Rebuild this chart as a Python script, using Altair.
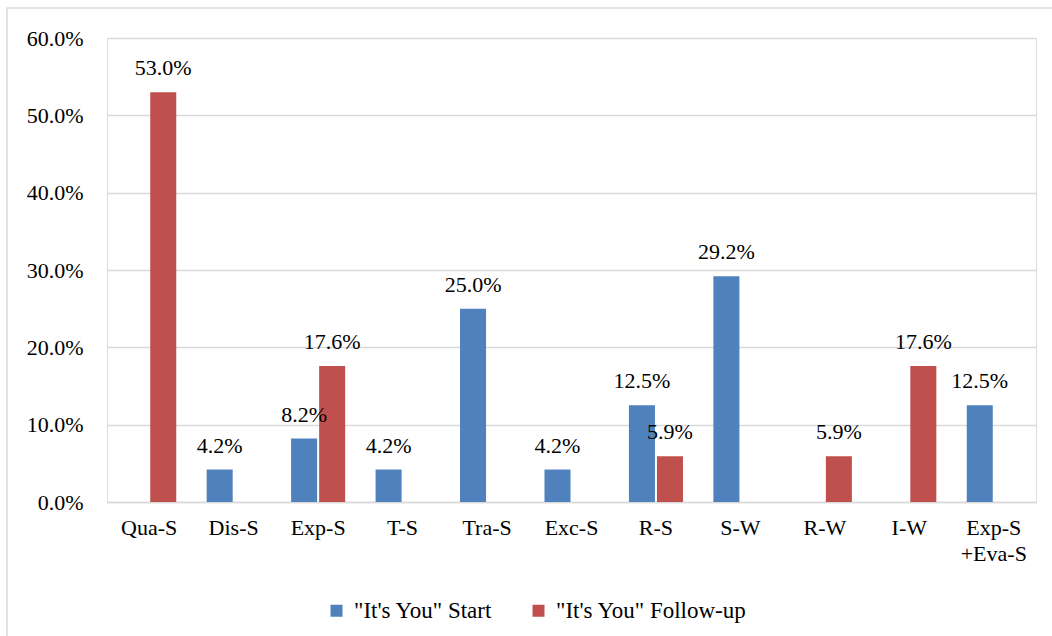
import altair as alt
import pandas as pd

categories = ["Qua-S", "Dis-S", "Exp-S", "T-S", "Tra-S", "Exc-S", "R-S", "S-W", "R-W", "I-W", "Exp-S +Eva-S"]
series_names = ['"It\'s You" Start', '"It\'s You" Follow-up']
start_values = [None, 4.2, 8.2, 4.2, 25.0, 4.2, 12.5, 29.2, None, None, 12.5]
follow_values = [53.0, None, 17.6, None, None, None, 5.9, None, 5.9, 17.6, None]
colors = ["#4F81BD", "#C0504D"]

rows = []
for c, s, f in zip(categories, start_values, follow_values):
    if s is not None:
        rows.append({"cat": c, "series": series_names[0], "value": s})
    if f is not None:
        rows.append({"cat": c, "series": series_names[1], "value": f})
df = pd.DataFrame(rows)

FONT = "'Liberation Serif', 'Times New Roman', serif"
FS = 22

x = alt.X("cat:N", sort=categories, title=None,
          scale=alt.Scale(paddingInner=0.36, paddingOuter=0.18),
          axis=alt.Axis(labelAngle=0, labelFontSize=FS, labelFont=FONT, labelColor="#000000",
                        labelPadding=15, ticks=False, domain=True, domainColor="#d9d9d9",
                        domainWidth=1.5, labelExpr="split(datum.label, ' ')", labelLineHeight=26,
                        labelLimit=0))
xoff = alt.XOffset("series:N", sort=series_names,
                   scale=alt.Scale(domain=series_names, paddingInner=0.0714, paddingOuter=0))
y = alt.Y("value:Q", title=None,
          scale=alt.Scale(domain=[0, 60]),
          axis=alt.Axis(values=[0, 10, 20, 30, 40, 50, 60], labelExpr="format(datum.value, '.1f') + '%'",
                        labelFontSize=FS, labelFont=FONT, labelColor="#000000", labelPadding=24,
                        ticks=False, domain=False, grid=True, gridColor="#d9d9d9", gridWidth=1.5))
color = alt.Color("series:N", sort=series_names,
                  scale=alt.Scale(domain=series_names, range=colors),
                  legend=alt.Legend(title=None, orient="none", legendX=218, legendY=561,
                                    direction="horizontal", symbolType="square", symbolSize=144,
                                    symbolStrokeWidth=0, labelFontSize=23, labelFont=FONT,
                                    labelColor="#000000", columnPadding=34, labelOffset=6,
                                    labelLimit=0))

bars = alt.Chart(df).mark_bar().encode(x=x, xOffset=xoff, y=y, color=color)

labels = alt.Chart(df).transform_calculate(
    txt="format(datum.value, '.1f') + '%'"
).mark_text(fontSize=FS, font=FONT, color="#000000", baseline="alphabetic", dy=-17).encode(
    x=alt.X("cat:N", sort=categories), xOffset=alt.XOffset("series:N", sort=series_names),
    y="value:Q", text="txt:N"
)

border = alt.Chart(pd.DataFrame({"a": [0]})).mark_rect(
    fill=None, stroke="#d9d9d9", strokeWidth=1.5, clip=False
).encode(x=alt.value(-100), x2=alt.value(953), y=alt.value(-30), y2=alt.value(612))

chart = alt.layer(border, bars, labels).properties(
    width=929, height=464,
    autosize=alt.AutoSizeParams(type="none"),
    padding={"left": 107, "top": 38, "right": 16, "bottom": 134},
).configure_view(stroke=None).configure(background="#ffffff", font=FONT)

chart.save("out.html", embed_options={"renderer": "svg", "actions": False})
